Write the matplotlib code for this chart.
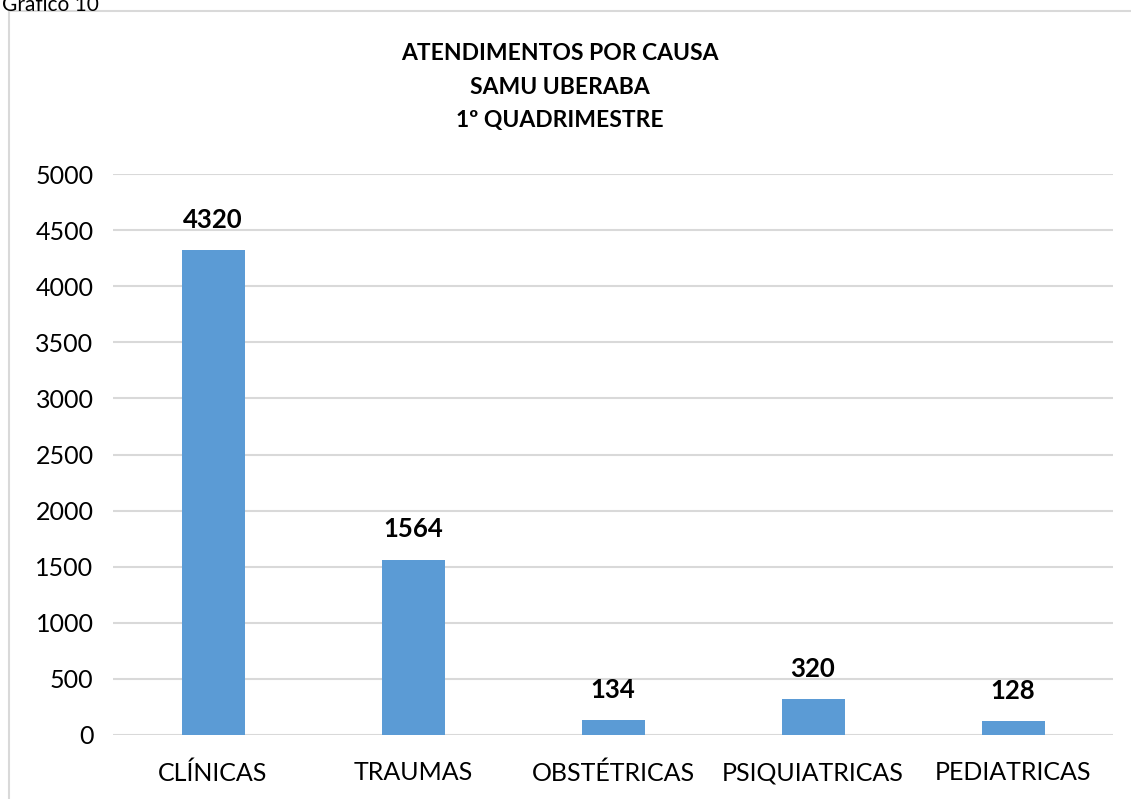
import matplotlib.pyplot as plt
from matplotlib.patches import Rectangle

categorias = ['CLÍNICAS', 'TRAUMAS', 'OBSTÉTRICAS', 'PSIQUIATRICAS', 'PEDIATRICAS']
atendimentos = [4320, 1564, 134, 320, 128]
yticks = [0, 500, 1000, 1500, 2000, 2500, 3000, 3500, 4000, 4500, 5000]

plt.rcParams['font.family'] = ['Lato', 'DejaVu Sans']

fig = plt.figure(figsize=(11.31, 7.99), dpi=100)

# moldura do grafico (como no relatorio)
fig.patches.append(Rectangle((9 / 1131, -0.05), 1.1, 1 - 11 / 799 + 0.05,
                             transform=fig.transFigure, fill=False,
                             edgecolor='#d9d9d9', linewidth=1.5))
fig.text(0.002, 0.994, 'Gráfico 10', fontsize=15, va='center', ha='left')

ax = fig.add_axes([113 / 1131, 64 / 799, 1000 / 1131, 561 / 799])
x = range(len(categorias))
bars = ax.bar(x, atendimentos, width=0.315, color='#5b9bd5', zorder=3)

for b, v in zip(bars, atendimentos):
    ax.annotate(str(v), (b.get_x() + b.get_width() / 2, v), xytext=(0, 13),
                textcoords='offset points', ha='center', va='bottom',
                fontsize=18.5, fontweight='bold')

ax.set_xlim(-0.5, 4.5)
ax.set_ylim(0, 5000)
ax.set_yticks(yticks)
ax.set_xticks(list(x))
ax.set_xticklabels(categorias)
ax.tick_params(axis='both', length=0, labelsize=18)
ax.tick_params(axis='x', pad=19)
ax.tick_params(axis='y', pad=14)
ax.grid(axis='y', color='#d9d9d9', linewidth=1.5, zorder=0)
for s in ax.spines.values():
    s.set_visible(False)

fig.text(560 / 1131, 1 - 87 / 799, 'ATENDIMENTOS POR CAUSA\nSAMU UBERABA\n1º QUADRIMESTRE',
         ha='center', va='center', fontsize=16.5, fontweight='bold', linespacing=1.75)

fig.savefig('out.png', dpi=100)
